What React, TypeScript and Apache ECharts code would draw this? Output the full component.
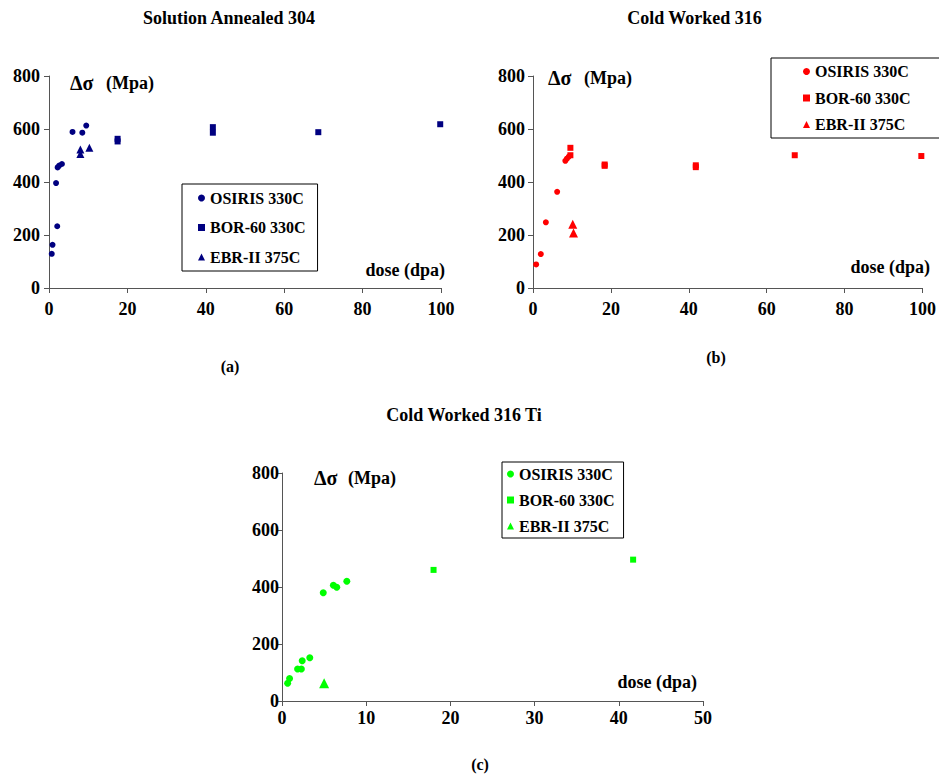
import React, { useEffect, useRef } from "react";
import * as echarts from "echarts";

const legendNames = ["OSIRIS 330C", "BOR-60 330C", "EBR-II 375C"];
const titles = ["Solution Annealed 304", "Cold Worked 316", "Cold Worked 316 Ti"];
const captions = ["(a)", "(b)", "(c)"];

// Chart (a) Solution Annealed 304
const osirisA = [[0.7, 129], [0.9, 163], [2.1, 233], [1.8, 396], [2.2, 455], [2.6, 462], [3.3, 468], [6.0, 589], [8.5, 586], [9.5, 613]];
const borA = [[17.5, 563], [17.5, 553], [41.8, 607], [41.8, 586], [68.7, 588], [99.8, 618]];
const ebrA = [[8.0, 523], [8.0, 506], [10.3, 529]];

// Chart (b) Cold Worked 316
const osirisB = [[0.8, 89], [2.0, 128], [3.3, 248], [6.2, 363], [8.3, 480], [8.7, 488], [9.2, 496]];
const borB = [[9.6, 529], [9.6, 501], [18.4, 466], [18.4, 461], [41.8, 463], [41.8, 456], [67.2, 501], [99.7, 498]];
const ebrB = [[10.2, 241], [10.4, 208]];

// Chart (c) Cold Worked 316 Ti
const osirisC = [[0.67, 62], [0.9, 79], [1.85, 112], [2.3, 112], [2.4, 141], [3.3, 152], [4.9, 380], [6.1, 406], [6.5, 399], [7.7, 420]];
const borC = [[18.0, 460], [41.7, 496]];
const ebrC = [[5.0, 62]];

const xMaxes = [100, 100, 50];
const xIntervals = [20, 20, 10];
const yMax = 800;
const yInterval = 200;

const colors = ["#000080", "#FF0000", "#00FF00"];
const FONT = "'Liberation Serif', 'Times New Roman', serif";

export default function App() {
  const ref = useRef<HTMLDivElement>(null);
  useEffect(() => {
    if (!ref.current) return;
    const chart = echarts.init(ref.current, null, { renderer: "svg" });
    const grids = [
      { left: 49, top: 76, width: 392, height: 212 },
      { left: 533, top: 76, width: 393, height: 212 },
      { left: 282, top: 473, width: 421, height: 228 },
    ];
    const axisLine = { show: true, onZero: false, lineStyle: { color: "#555", width: 1 } };
    const axisTick = { show: true, inside: false, length: 5, lineStyle: { color: "#555" } };
    const labelStyle = { color: "#000", fontFamily: FONT, fontWeight: "bold" as const, fontSize: 18 };
    const yMargins = [9, 8, 3];
    const xMargins = [12, 12, 8];
    const xAxis = grids.map((_, i) => ({
      type: "value" as const,
      gridIndex: i,
      min: 0,
      max: xMaxes[i],
      interval: xIntervals[i],
      axisLine,
      axisTick,
      splitLine: { show: false },
      axisLabel: { ...labelStyle, margin: xMargins[i] },
    }));
    const yAxis = grids.map((_, i) => ({
      type: "value" as const,
      gridIndex: i,
      min: 0,
      max: yMax,
      interval: yInterval,
      axisLine,
      axisTick,
      splitLine: { show: false },
      axisLabel: { ...labelStyle, margin: yMargins[i] },
    }));
    const dataSets = [
      [osirisA, borA, ebrA],
      [osirisB, borB, ebrB],
      [osirisC, borC, ebrC],
    ];
    const symbols = ["circle", "rect", "triangle"];
    const sizes = [
      [6, 6, 8],
      [6, 6, 9],
      [7, 6, 10],
    ];
    const prefixes = ["a", "b", "c"];
    const series: any[] = [];
    dataSets.forEach((sets, i) => {
      sets.forEach((d, j) => {
        series.push({
          type: "scatter",
          name: prefixes[i] + "|" + legendNames[j],
          xAxisIndex: i,
          yAxisIndex: i,
          data: d,
          symbol: symbols[j],
          symbolSize: sizes[i][j],
          itemStyle: { color: colors[i], opacity: 1 },
        });
      });
    });
    const legendPos = [
      { left: 182, top: 184, padding: [6, 12, 6, 16], itemGap: 13.5 },
      { left: 771, top: 58, padding: [5.5, 29, 5.5, 32], itemGap: 10.5 },
      { left: 502, top: 462, padding: [4, 9, 4, 5], itemGap: 10 },
    ];
    const legend = legendPos.map((p, i) => ({
      show: true,
      orient: "vertical" as const,
      left: p.left,
      top: p.top,
      padding: p.padding,
      itemGap: p.itemGap,
      itemWidth: 7,
      itemHeight: 7,
      borderColor: "#000",
      borderWidth: 1,
      backgroundColor: "#fff",
      selectedMode: false,
      data: legendNames.map((n) => prefixes[i] + "|" + n),
      formatter: (name: string) => name.split("|")[1],
      textStyle: { color: "#000", fontFamily: FONT, fontWeight: "bold", fontSize: 16, lineHeight: 15 },
    }));
    const txt = (x: number, y: number, text: string, size: number, align: string = "left") => ({
      type: "text",
      x,
      y,
      style: {
        text,
        fill: "#000",
        font: `bold ${size}px ${FONT}`,
        textAlign: align,
        textVerticalAlign: "middle",
      },
    });
    const graphic = [
      txt(229, 18, titles[0], 18, "center"),
      txt(694.5, 18, titles[1], 18, "center"),
      txt(464, 415, titles[2], 18, "center"),
      txt(230, 366, captions[0], 16, "center"),
      txt(716, 357, captions[1], 16, "center"),
      txt(480, 764, captions[2], 16, "center"),
      txt(70, 83, "Δσ", 20),
      txt(106, 83, "(Mpa)", 18),
      txt(548, 78, "Δσ", 20),
      txt(584, 78, "(Mpa)", 18),
      txt(314, 478, "Δσ", 20),
      txt(348, 478, "(Mpa)", 18),
      txt(445, 270, "dose (dpa)", 18, "right"),
      txt(930, 267, "dose (dpa)", 18, "right"),
      txt(697, 682, "dose (dpa)", 18, "right"),
    ];
    chart.setOption({
      animation: false,
      backgroundColor: "#fff",
      grid: grids,
      xAxis,
      yAxis,
      series,
      legend,
      graphic,
    });
    return () => chart.dispose();
  }, []);
  return (
    <div
      ref={ref}
      style={{ position: "absolute", left: 0, top: 0, width: 939, height: 775, background: "#fff" }}
    />
  );
}
